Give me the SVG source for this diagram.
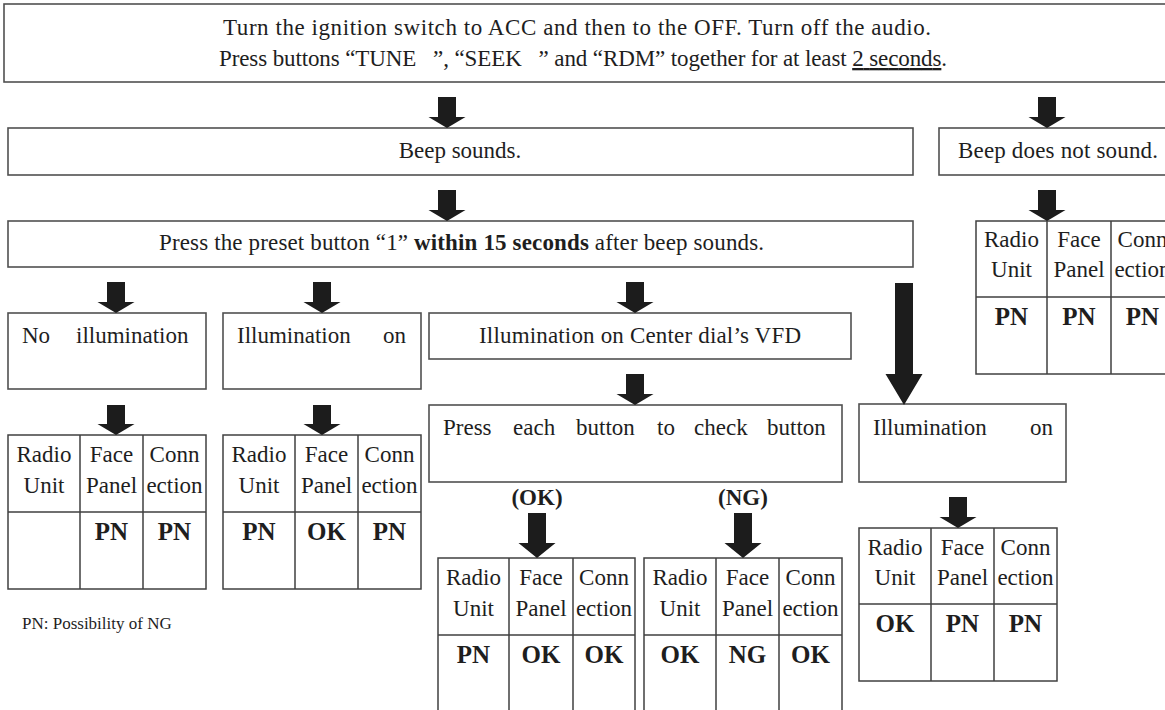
<svg xmlns="http://www.w3.org/2000/svg" width="1165" height="710" viewBox="0 0 1165 710">
  <style>
    .box { fill: #ffffff; stroke: #505050; stroke-width: 1.6; }
    .grid { stroke: #404040; stroke-width: 1.5; fill: none; }
    .t { font-family: "Liberation Serif", "Times New Roman", serif; font-size: 23px; fill: #1e1e1e; }
    .c { text-anchor: middle; }
    .v { font-family: "Liberation Serif", "Times New Roman", serif; font-size: 25px; font-weight: bold; fill: #1e1e1e; text-anchor: middle; }
    .b { font-weight: bold; }
    .note { font-family: "Liberation Serif", "Times New Roman", serif; font-size: 17px; fill: #1e1e1e; }
    .arrow { fill: #1c1c1c; }
  </style>
  <rect width="1165" height="710" fill="#ffffff"/>

  <!-- start step -->
  <g id="start">
    <rect class="box" x="4" y="4" width="1170" height="78"/>
    <text class="t" x="223" y="35" textLength="708" lengthAdjust="spacing">Turn the ignition switch to ACC and then to the OFF. Turn off the audio.</text>
    <text class="t" x="219" y="66" textLength="728" lengthAdjust="spacing">Press buttons “TUNE&#160;&#160;&#160;”, “SEEK&#160;&#160;&#160;” and “RDM” together for at least <tspan text-decoration="underline">2 seconds</tspan>.</text>
  </g>

  <g id="beep-sounds">
    <rect class="box" x="8" y="128" width="905" height="47"/>
    <text class="t c" x="460" y="158">Beep sounds.</text>
  </g>

  <g id="beep-silent">
    <rect class="box" x="939" y="128" width="240" height="47"/>
    <text class="t" x="958" y="158" textLength="200" lengthAdjust="spacing">Beep does not sound.</text>
  </g>

  <g id="press-preset">
    <rect class="box" x="8" y="221" width="905" height="46"/>
    <text class="t" x="159" y="250" textLength="605" lengthAdjust="spacing">Press the preset button “1” <tspan class="b">within 15 seconds</tspan> after beep sounds.</text>
  </g>

  <g id="no-illumination">
    <rect class="box" x="8" y="313" width="198" height="76"/>
    <text class="t" y="343"><tspan x="22">No</tspan><tspan x="76">illumination</tspan></text>
  </g>

  <g id="illumination-on">
    <rect class="box" x="223" y="313" width="198" height="76"/>
    <text class="t" y="343"><tspan x="237">Illumination</tspan><tspan x="383">on</tspan></text>
  </g>

  <g id="vfd-on">
    <rect class="box" x="429" y="313" width="422" height="46"/>
    <text class="t" x="479" y="343" textLength="322" lengthAdjust="spacing">Illumination on Center dial’s VFD</text>
  </g>

  <g id="press-each">
    <rect class="box" x="429" y="405" width="413" height="77"/>
    <text class="t" y="435"><tspan x="443">Press</tspan><tspan x="513">each</tspan><tspan x="576">button</tspan><tspan x="657">to</tspan><tspan x="694">check</tspan><tspan x="767">button</tspan></text>
  </g>

  <g id="illumination-on-right">
    <rect class="box" x="859" y="404" width="207" height="78"/>
    <text class="t" y="435"><tspan x="873">Illumination</tspan><tspan x="1030">on</tspan></text>
  </g>

  <!-- result tables: Radio Unit / Face Panel / Connection -->
  <g id="result-no-illumination">
    <rect class="grid" x="8" y="435" width="198" height="154"/>
    <path class="grid" d="M80 435V589M143 435V589M8 512H206"/>
    <text class="t c" x="44" y="462">Radio</text><text class="t c" x="44" y="493">Unit</text>
    <text class="t c" x="111.5" y="462">Face</text><text class="t c" x="111.5" y="493">Panel</text>
    <text class="t c" x="174.5" y="462">Conn</text><text class="t c" x="174.5" y="493">ection</text>
    <text class="v" x="111.5" y="540">PN</text><text class="v" x="174.5" y="540">PN</text>
  </g>

  <g id="result-illumination-on">
    <rect class="grid" x="223" y="435" width="198" height="154"/>
    <path class="grid" d="M295 435V589M358 435V589M223 512H421"/>
    <text class="t c" x="259" y="462">Radio</text><text class="t c" x="259" y="493">Unit</text>
    <text class="t c" x="326.5" y="462">Face</text><text class="t c" x="326.5" y="493">Panel</text>
    <text class="t c" x="389.5" y="462">Conn</text><text class="t c" x="389.5" y="493">ection</text>
    <text class="v" x="259" y="540">PN</text><text class="v" x="326.5" y="540">OK</text><text class="v" x="389.5" y="540">PN</text>
  </g>

  <g id="result-buttons-ok">
    <rect class="grid" x="438" y="558" width="197" height="170"/>
    <path class="grid" d="M509 558V728M573 558V728M438 635H635"/>
    <text class="t c" x="473.5" y="585">Radio</text><text class="t c" x="473.5" y="616">Unit</text>
    <text class="t c" x="541" y="585">Face</text><text class="t c" x="541" y="616">Panel</text>
    <text class="t c" x="604" y="585">Conn</text><text class="t c" x="604" y="616">ection</text>
    <text class="v" x="473.5" y="663">PN</text><text class="v" x="541" y="663">OK</text><text class="v" x="604" y="663">OK</text>
  </g>

  <g id="result-buttons-ng">
    <rect class="grid" x="644" y="558" width="198" height="170"/>
    <path class="grid" d="M716 558V728M779 558V728M644 635H842"/>
    <text class="t c" x="680" y="585">Radio</text><text class="t c" x="680" y="616">Unit</text>
    <text class="t c" x="747.5" y="585">Face</text><text class="t c" x="747.5" y="616">Panel</text>
    <text class="t c" x="810.5" y="585">Conn</text><text class="t c" x="810.5" y="616">ection</text>
    <text class="v" x="680" y="663">OK</text><text class="v" x="747.5" y="663">NG</text><text class="v" x="810.5" y="663">OK</text>
  </g>

  <g id="result-illumination-right">
    <rect class="grid" x="859" y="528" width="198" height="153"/>
    <path class="grid" d="M931 528V681M994 528V681M859 604H1057"/>
    <text class="t c" x="895" y="555">Radio</text><text class="t c" x="895" y="585">Unit</text>
    <text class="t c" x="962.5" y="555">Face</text><text class="t c" x="962.5" y="585">Panel</text>
    <text class="t c" x="1025.5" y="555">Conn</text><text class="t c" x="1025.5" y="585">ection</text>
    <text class="v" x="895" y="632">OK</text><text class="v" x="962.5" y="632">PN</text><text class="v" x="1025.5" y="632">PN</text>
  </g>

  <g id="result-no-beep">
    <rect class="grid" x="976" y="221" width="198" height="153"/>
    <path class="grid" d="M1047 221V374M1111 221V374M976 297H1174"/>
    <text class="t c" x="1011.5" y="247">Radio</text><text class="t c" x="1011.5" y="277">Unit</text>
    <text class="t c" x="1079" y="247">Face</text><text class="t c" x="1079" y="277">Panel</text>
    <text class="t c" x="1142.5" y="247">Conn</text><text class="t c" x="1142.5" y="277">ection</text>
    <text class="v" x="1011.5" y="325">PN</text><text class="v" x="1079" y="325">PN</text><text class="v" x="1142.5" y="325">PN</text>
  </g>

  <g id="legend">
    <text class="note" x="22" y="629">PN: Possibility of NG</text>
  </g>

  <!-- block arrows between steps -->
  <g id="connectors">
    <path class="arrow" d="M438 97H456V117H465.5L447 128L428.5 117H438Z"/>
    <path class="arrow" d="M1038 97H1056V117H1065.5L1047 128L1028.5 117H1038Z"/>
    <path class="arrow" d="M438 190H456V210H465.5L447 221L428.5 210H438Z"/>
    <path class="arrow" d="M1038 190H1056V210H1065.5L1047 221L1028.5 210H1038Z"/>
    <path class="arrow" d="M107 282H125V302H134.5L116 313L97.5 302H107Z"/>
    <path class="arrow" d="M313 282H331V302H340.5L322 313L303.5 302H313Z"/>
    <path class="arrow" d="M626 282H644V302H653.5L635 313L616.5 302H626Z"/>
    <path class="arrow" d="M895 283H913V374H922.5L904 405L885.5 374H895Z"/>
    <path class="arrow" d="M107 405H125V424H134.5L116 435L97.5 424H107Z"/>
    <path class="arrow" d="M313 405H331V424H340.5L322 435L303.5 424H313Z"/>
    <path class="arrow" d="M626 374H644V394H653.5L635 405L616.5 394H626Z"/>
    <path class="arrow" d="M528 513H546V543H555.5L537 558L518.5 543H528Z"/>
    <path class="arrow" d="M734 513H752V543H761.5L743 558L724.5 543H734Z"/>
    <path class="arrow" d="M949 497H967V517H976.5L958 528L939.5 517H949Z"/>
    <text class="t c b" x="537" y="505">(OK)</text>
    <text class="t c b" x="743" y="505">(NG)</text>
  </g>
</svg>
